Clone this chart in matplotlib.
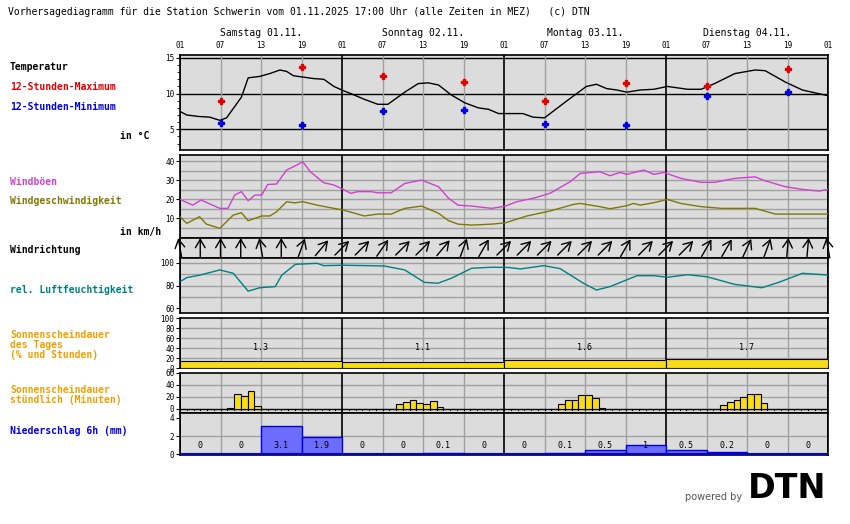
import matplotlib
matplotlib.use("Agg")
import matplotlib.pyplot as plt
import numpy as np

W, H = 850, 524
X0, X1 = 180, 828
MONO = "DejaVu Sans Mono"

days = ["Samstag 01.11.", "Sonntag 02.11.", "Montag 03.11.", "Dienstag 04.11."]
hour_labels = ["01", "07", "13", "19"]

temp_h = [0, 1, 2.7, 4.4, 5.9, 6.9, 9.1, 10.1, 11.8, 13.3, 14.8, 15.8, 16.8, 18.3, 19.8, 21.3, 22.8,
          24.2, 25.3, 27.3, 29.3, 30.8, 33.3, 35.3, 36.8, 38.3, 40.2, 42.2, 44.2, 45.7, 47.2, 50.8,
          52.3, 54.0, 57.2, 60.2, 61.7, 63.2, 64.7, 66.2, 68.2, 70.2, 72.2, 73.7, 75.2, 77.2, 79.2,
          82.2, 85.2, 86.7, 89.7, 92.2, 96]
temp_v = [7.5, 7.0, 6.8, 6.7, 6.25, 6.6, 9.5, 12.2, 12.4, 12.8, 13.3, 13.1, 12.5, 12.3, 12.1, 12.0, 11.0,
          10.4, 10.0, 9.2, 8.5, 8.5, 10.2, 11.4, 11.5, 11.2, 9.8, 8.7, 8.0, 7.8, 7.2, 7.2,
          6.7, 6.6, 8.9, 11.0, 11.3, 10.7, 10.5, 10.2, 10.5, 10.6, 11.0, 10.8, 10.6, 10.6, 11.4,
          12.8, 13.3, 13.2, 11.6, 10.5, 9.7]
ext_h = [6, 18, 30, 42, 54, 66, 78, 90]
tmax = [9.0, 13.75, 12.45, 11.6, 8.9, 11.5, 11.1, 13.4]
tmin = [5.9, 5.65, 7.6, 7.75, 5.8, 5.65, 9.6, 10.2]

gust_h = [0, 1.9, 3.1, 5.9, 7.1, 8.1, 9.1, 10.1, 11.1, 12.1, 13.0, 14.3, 15.8, 16.8, 18.2, 19.3, 21.3,
          22.8, 24.2, 25.3, 26.3, 28.3, 29.3, 31.3, 33.3, 35.8, 38.3, 39.8, 41.2, 43.2, 46.2, 48.2,
          49.9, 52.3, 54.8, 57.8, 59.3, 62.2, 63.7, 65.2, 66.2, 68.7, 70.2, 71.7, 74.2, 77.2, 79.2,
          82.2, 85.2, 86.7, 89.7, 92.2, 94.7, 96]
gust_v = [19.8, 16.8, 19.5, 15.1, 15.1, 22.1, 23.9, 19.1, 22.1, 22.1, 27.7, 27.9, 35.3, 37.0, 39.6, 34.4, 28.6,
          27.4, 25.1, 23.0, 23.9, 23.9, 23.3, 23.3, 28.2, 30.0, 26.5, 20.4, 16.8, 16.3, 15.1, 16.3,
          18.6, 20.4, 23.0, 29.1, 33.5, 34.4, 32.3, 34.0, 33.0, 35.3, 33.0, 34.0, 30.9, 28.8, 28.8,
          30.9, 31.7, 29.6, 26.5, 25.1, 24.2, 25.1]
wind_h = [0, 1, 2.9, 3.9, 5.9, 7.9, 9.1, 10.1, 12.1, 13.3, 14.3, 15.8, 17.0, 18.2, 20.3, 22.8, 24.2,
          27.3, 29.3, 31.3, 33.3, 35.8, 38.3, 39.8, 41.2, 43.2, 46.2, 48.2, 51.4, 54.8, 58.3, 59.3,
          62.2, 63.7, 66.2, 67.2, 68.2, 70.2, 72.2, 74.2, 77.2, 80.2, 85.2, 88.2, 96]
wind_v = [10.7, 7.2, 10.7, 6.8, 4.6, 11.6, 12.8, 8.6, 11.1, 11.1, 13.3, 18.6, 18.0, 18.6, 16.8, 15.1, 14.2,
          11.1, 12.1, 12.1, 15.1, 16.3, 12.5, 8.6, 6.8, 6.3, 6.8, 7.5, 11.1, 13.7, 17.2, 17.7,
          16.0, 14.9, 16.5, 17.7, 16.8, 18.1, 19.8, 17.7, 16.0, 15.1, 15.1, 12.1, 12.1]

dir_h = list(range(0, 97, 3))
dir_deg = [-10, 0, 0, 0, -10, 0, 20, 40, 45, 45, 35, 45, 45, 40, 20, 30, 45,
           45, 45, 45, 45, 45, 30, 45, 45, 45, 30, 30, 25, 20, 5, 5, -10]

hum_h = [0, 1, 3, 5.9, 7.9, 10.1, 11.8, 14.1, 15.1, 17.1, 20.3, 21.3, 24.2, 30.3, 33.3, 36.2, 38.2,
         40.2, 43.2, 46.2, 48.7, 50.4, 53.9, 56.3, 59.8, 61.7, 63.7, 67.7, 70.2, 72.2, 75.2, 78.1,
         82.2, 86.2, 88.7, 92.2, 96]
hum_v = [83.4, 87.0, 89.3, 93.8, 90.8, 75.0, 78.0, 79.0, 89.3, 98.8, 99.7, 97.6, 98.0, 97.3, 93.8, 82.8, 82.0,
         86.4, 95.3, 96.2, 96.0, 94.7, 97.6, 95.0, 81.9, 76.0, 79.0, 88.7, 88.7, 87.3, 89.6, 87.7,
         81.0, 78.0, 82.8, 90.8, 89.3]

sun_day_pct = [14, 12, 17, 19]
sun_day_hrs = ["1.3", "1.1", "1.6", "1.7"]

sun_hr_h = [7, 8, 9, 10, 11, 32, 33, 34, 35, 36, 37, 38, 56, 57, 58, 59, 60, 61, 62, 80, 81, 82, 83, 84, 85, 86]
sun_hr_min = [2, 25, 22, 30, 5, 8, 12, 15, 10, 8, 13, 4, 8, 15, 15, 23, 23, 18, 2, 6, 12, 15, 20, 25, 25, 10]

rain_6h = [0, 0, 3.1, 1.9, 0, 0, 0.1, 0, 0, 0.1, 0.5, 1, 0.5, 0.2, 0, 0]
rain_lbl = ["0", "0", "3.1", "1.9", "0", "0", "0.1", "0", "0", "0.1", "0.5", "1", "0.5", "0.2", "0", "0"]

BG = "#dcdcdc"
GRID = "#a0a0a0"
YEL = "#f8dc1c"

fig = plt.figure(figsize=(W / 100, H / 100), dpi=100)


def panel(top, bot, ylim, ticks=None, hgrid=(), hblack=()):
    ax = fig.add_axes([X0 / W, 1 - bot / H, (X1 - X0) / W, (bot - top) / H])
    ax.set_facecolor(BG)
    ax.set_xlim(0, 96)
    ax.set_ylim(*ylim)
    for y in hgrid:
        ax.axhline(y, color=GRID, lw=1, zorder=1)
    for y in hblack:
        ax.axhline(y, color="black", lw=1, zorder=1)
    for h in range(0, 97, 6):
        ax.axvline(h, color="black" if h % 24 == 0 else GRID, lw=1.2 if h % 24 == 0 else 1, zorder=1)
    ax.set_xticks([])
    if ticks is not None:
        ax.set_yticks(ticks)
        ax.set_yticklabels([str(t) for t in ticks], fontsize=5.5, family=MONO)
        ax.tick_params(axis="y", length=3, pad=1)
    else:
        ax.set_yticks([])
    for s in ax.spines.values():
        s.set_linewidth(1.2)
    return ax


# temperature
ax = panel(55, 150, (2.1, 15.4), [5, 10, 15], hblack=[5, 10, 15])
ax.set_yticks(range(3, 16), minor=True)
ax.tick_params(axis="y", which="minor", length=2)
ax.plot(temp_h, temp_v, color="black", lw=1, zorder=3)
ax.plot(ext_h, tmax, "P", color="#e00000", ms=4, zorder=4)
ax.plot(ext_h, tmin, "P", color="#0000e0", ms=4, zorder=4)

# wind
ax = panel(155, 238, (-0.5, 43.2), [10, 20, 30, 40], hgrid=range(5, 45, 5))
ax.plot(gust_h, gust_v, color="#d040d0", lw=1, zorder=3)
ax.plot(wind_h, wind_v, color="#807800", lw=1, zorder=3)

# wind direction (1 y unit = 1 pixel, 6.75 px per hour)
ax = panel(238, 258, (0, 20))
for h, d in zip(dir_h, dir_deg):
    r = np.radians(d)
    dx, dy = 10 * np.sin(r) / 6.75, 10 * np.cos(r)
    ax.annotate("", xy=(h + dx, 10 + dy), xytext=(h - dx, 10 - dy),
                arrowprops=dict(arrowstyle="->,head_length=0.6,head_width=0.35", color="black",
                                lw=1, mutation_scale=10, shrinkA=0, shrinkB=0),
                annotation_clip=False)

# humidity
ax = panel(258, 313, (55.6, 104.4), [60, 80, 100], hgrid=[70, 80, 90, 100])
ax.plot(hum_h, hum_v, color="#008080", lw=1, zorder=3)

# sunshine per day
ax = panel(318, 368, (0, 100), list(range(0, 101, 20)), hgrid=range(20, 100, 20))
for i, (p, s) in enumerate(zip(sun_day_pct, sun_day_hrs)):
    ax.bar(24 * i, p, width=24, align="edge", color=YEL, edgecolor="black", lw=0.8, zorder=3)
    ax.text(24 * i + 12, 42, s, ha="center", va="center", fontsize=6, family=MONO, zorder=4)

# sunshine hourly
ax = panel(373, 413, (-6.7, 60), [0, 20, 40, 60], hgrid=[20, 40])
ax.axhline(0, color="black", lw=1, zorder=2)
for h in range(1, 96):
    ax.plot([h, h], [-1.5, 0], color="black", lw=0.8, zorder=2)
ax.bar(sun_hr_h, sun_hr_min, width=1, align="edge", color=YEL, edgecolor="black", lw=0.8, zorder=3)

# precipitation
ax = panel(413, 455, (-0.1, 4.55), [0, 2, 4], hgrid=[2])
ax.bar(np.arange(16) * 6, rain_6h, width=6, align="edge", color="#6c6cff", edgecolor="#0000e0", lw=1, zorder=3)
ax.axhline(0, color="#0000e0", lw=1.5, zorder=4)
for i, s in enumerate(rain_lbl):
    ax.text(6 * i + 3, 1.0, s, ha="center", va="center", fontsize=6, family=MONO, zorder=5)

# hour and day labels
for d in range(4):
    fig.text((X0 + (24 * d + 12) * 6.75) / W, 1 - 33 / H, days[d], ha="center", va="center",
             fontsize=7, family=MONO)
for h in range(0, 97, 6):
    fig.text((X0 + h * 6.75) / W, 1 - 45 / H, hour_labels[(h // 6) % 4], ha="center", va="center",
             fontsize=5.5, family=MONO)

fig.text(8 / W, 1 - 12 / H, "Vorhersagediagramm für die Station Schwerin vom 01.11.2025 17:00 Uhr (alle Zeiten in MEZ)   (c) DTN",
         fontsize=7, family=MONO, va="center")

left = [
    ("Temperatur", 67, "black", 10),
    ("12-Stunden-Maximum", 87, "#e00000", 10),
    ("12-Stunden-Minimum", 107, "#0000e0", 10),
    ("in °C", 136, "black", 120),
    ("Windböen", 182, "#d040d0", 10),
    ("Windgeschwindigkeit", 201, "#807800", 10),
    ("in km/h", 232, "black", 120),
    ("Windrichtung", 250, "black", 10),
    ("rel. Luftfeuchtigkeit", 290, "#008080", 10),
    ("Sonnenscheindauer", 335, "#f0a000", 10),
    ("des Tages", 345, "#f0a000", 10),
    ("(% und Stunden)", 355, "#f0a000", 10),
    ("Sonnenscheindauer", 390, "#f0a000", 10),
    ("stündlich (Minuten)", 400, "#f0a000", 10),
    ("Niederschlag 6h (mm)", 431, "#0000e0", 10),
]
for s, y, c, x in left:
    fig.text(x / W, 1 - y / H, s, color=c, fontsize=7, family=MONO, weight="bold", va="center")

fig.text(742 / W, 1 - 497 / H, "powered by", color="#555555", fontsize=7, ha="right", va="center")
fig.text(748 / W, 1 - 488 / H, "DTN", color="black", fontsize=24, weight="bold", va="center")

fig.savefig("out.png", dpi=100)
